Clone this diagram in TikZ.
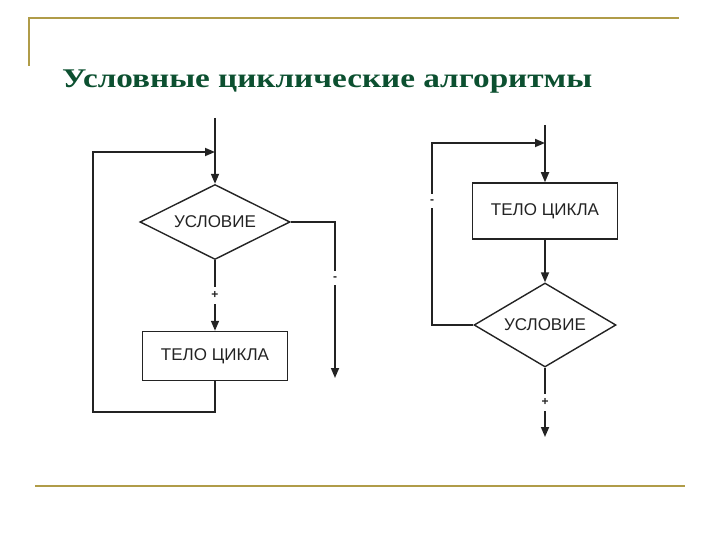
\documentclass[tikz,border=0pt]{standalone}
\usepackage{fontspec}
\setmainfont{Liberation Serif}
\setsansfont{Liberation Sans}
\usepackage{tikz}
\usetikzlibrary{arrows.meta,positioning,shapes.geometric}
\definecolor{gold}{RGB}{176,156,72}
\definecolor{darkgreen}{RGB}{12,80,48}
\definecolor{ink}{RGB}{35,35,35}

\begin{document}
\begin{tikzpicture}[x=1pt, y=-1pt,
  every node/.style={font=\sffamily\fontsize{17}{19}\selectfont, text=ink},
  box/.style={draw=ink, line width=1.5pt, rectangle, minimum width=145pt, inner sep=0pt},
  cond/.style={draw=ink, line width=1.4pt, diamond, inner sep=0pt},
  flow/.style={draw=ink, line width=1.7pt, -{Triangle[length=10pt,width=8pt]}},
  sign/.style={fill=white, text=ink, font=\sffamily\bfseries\fontsize{12}{12}\selectfont, inner xsep=1pt, inner ysep=5pt}]
				\useasboundingbox (0,0) rectangle (720,540);
				% frame lines and title
				\draw[gold, line width=2pt] (29,66) -- (29,18) -- (679,18);
				\draw[gold, line width=2pt] (35,486) -- (685,486);
				\node[anchor=base west, inner sep=0pt, font=\rmfamily\bfseries\fontsize{27}{30}\selectfont, text=darkgreen] (title) at (62,88) {\resizebox{530pt}{\height}{Условные циклические алгоритмы}};
				% loop with precondition
				\node[cond, minimum width=150pt, minimum height=75pt, shape aspect=2] (cond1) at (215,222) {УСЛОВИЕ};
				\node[box, minimum height=49pt] (body1) at (215,356) {ТЕЛО ЦИКЛА};
				\coordinate (in1) at (215,118);
				\coordinate (join1) at (215,152);
				\coordinate (back1) at (93,412);
				\coordinate (out1) at (335,378);
				\draw[flow] (in1) -- (cond1);
				\draw[flow] (cond1) -- node[sign] {+} (body1);
				\draw[flow] (cond1.east) -| node[sign, pos=0.68] {-} (out1);
				\draw[flow] (body1) |- (back1) |- (join1);
				% loop with postcondition
				\node[box, minimum height=56pt] (body2) at (545,211) {ТЕЛО ЦИКЛА};
				\node[cond, minimum width=142pt, minimum height=84pt, shape aspect=1.7] (cond2) at (545,325) {УСЛОВИЕ};
				\coordinate (in2) at (545,125);
				\coordinate (join2) at (545,143);
				\coordinate (back2) at (432,143);
				\coordinate (out2) at (545,437);
				\draw[flow] (in2) -- (body2);
				\draw[flow] (body2) -- (cond2);
				\draw[flow] (cond2) -- node[sign] {+} (out2);
				\draw[flow] (cond2.west) -| node[sign, pos=0.84] {-} (back2) -- (join2);
			\end{tikzpicture}
\end{document}
